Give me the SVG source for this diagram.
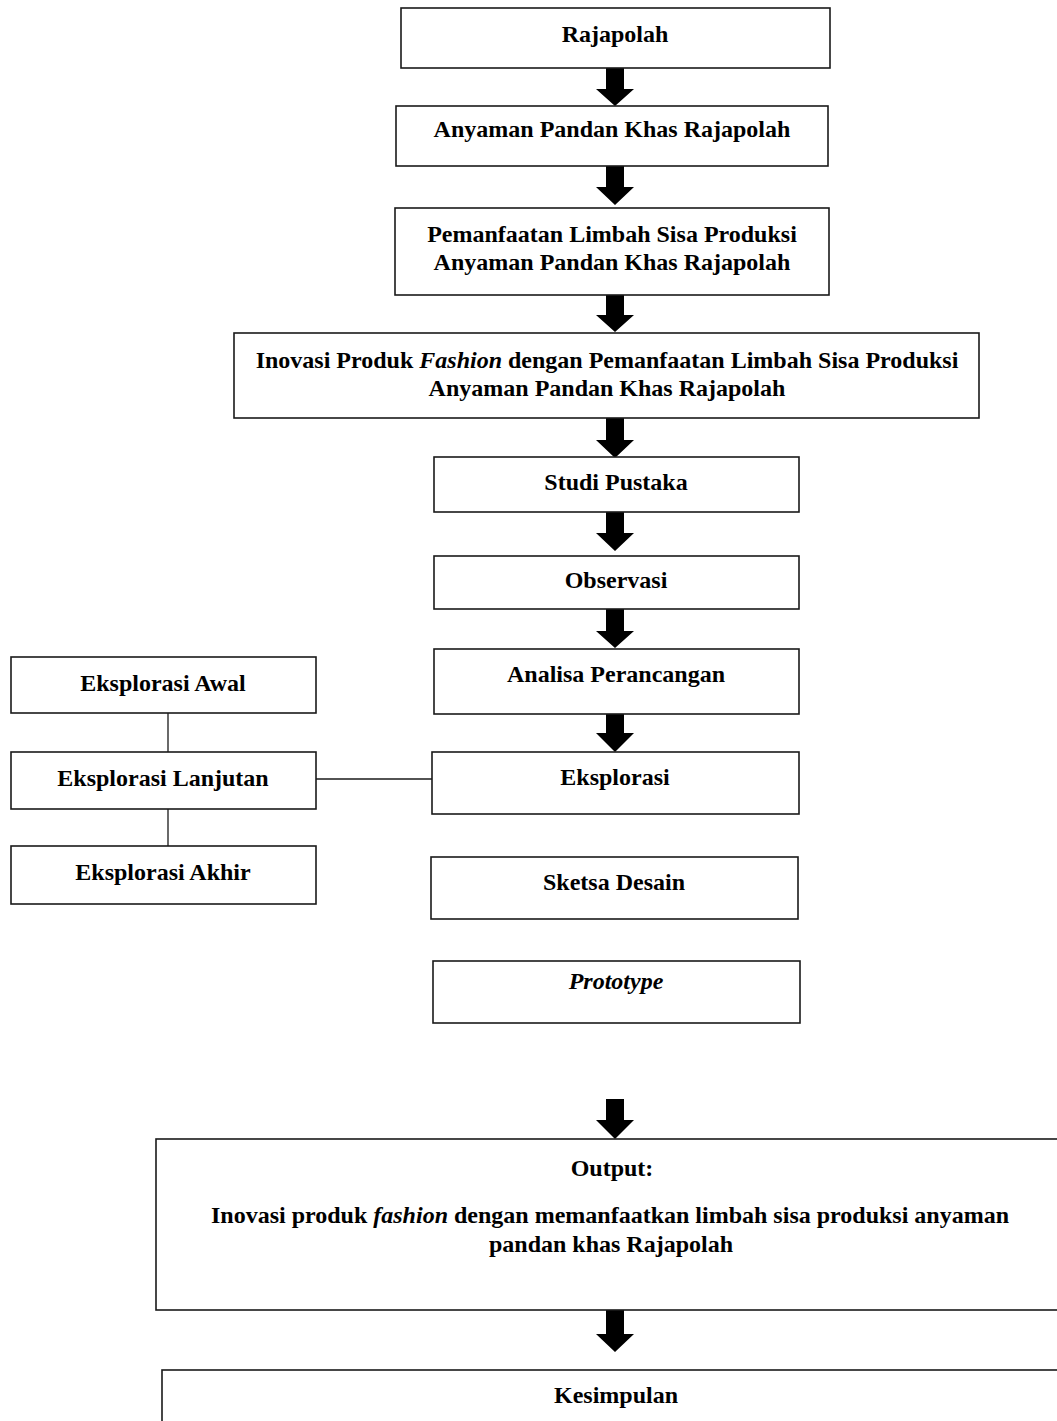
<svg xmlns="http://www.w3.org/2000/svg" width="1057" height="1421" viewBox="0 0 1057 1421">
<style>
.box{fill:#fff;stroke:#1a1a1a;stroke-width:1.6}
.t{font-family:"Liberation Serif","Times New Roman",serif;font-weight:bold;font-size:24px;fill:#000;text-anchor:middle}
.i{font-style:italic}
.ln{stroke:#1a1a1a;stroke-width:1.3;fill:none}
.ar{fill:#000}
</style>
<rect width="1057" height="1421" fill="#fff"/>
<g id="connectors">
<path class="ar" d="M606,67V89H596L615,106L634,89H624V67Z"/>
<path class="ar" d="M606,166V187H596L615,205L634,187H624V166Z"/>
<path class="ar" d="M606,295V315H596L615,332L634,315H624V295Z"/>
<path class="ar" d="M606,418V440H596L615,458L634,440H624V418Z"/>
<path class="ar" d="M606,512V533H596L615,551L634,533H624V512Z"/>
<path class="ar" d="M606,609V631H596L615,648L634,631H624V609Z"/>
<path class="ar" d="M606,714V733H596L615,752L634,733H624V714Z"/>
<path class="ar" d="M606,1099V1120H596L615,1139L634,1120H624V1099Z"/>
<path class="ar" d="M606,1310V1334H596L615,1352L634,1334H624V1310Z"/>
<line class="ln" x1="168" y1="713" x2="168" y2="752"/>
<line class="ln" x1="168" y1="809" x2="168" y2="846"/>
<line class="ln" x1="316" y1="779" x2="432" y2="779"/>
</g>
<g id="n-rajapolah"><rect class="box" x="401" y="8" width="429" height="60"/><text class="t" x="615" y="42">Rajapolah</text></g>
<g id="n-anyaman"><rect class="box" x="396" y="106" width="432" height="60"/><text class="t" x="612" y="137">Anyaman Pandan Khas Rajapolah</text></g>
<g id="n-pemanfaatan"><rect class="box" x="395" y="208" width="434" height="87"/><text class="t" x="612" y="242">Pemanfaatan Limbah Sisa Produksi</text><text class="t" x="612" y="270">Anyaman Pandan Khas Rajapolah</text></g>
<g id="n-inovasi"><rect class="box" x="234" y="333" width="745" height="85"/><text class="t" x="607" y="368">Inovasi Produk <tspan class="i">Fashion</tspan> dengan Pemanfaatan Limbah Sisa Produksi</text><text class="t" x="607" y="396">Anyaman Pandan Khas Rajapolah</text></g>
<g id="n-studi"><rect class="box" x="434" y="457" width="365" height="55"/><text class="t" x="616" y="490">Studi Pustaka</text></g>
<g id="n-observasi"><rect class="box" x="434" y="556" width="365" height="53"/><text class="t" x="616" y="588">Observasi</text></g>
<g id="n-analisa"><rect class="box" x="434" y="649" width="365" height="65"/><text class="t" x="616" y="682">Analisa Perancangan</text></g>
<g id="n-eksplorasi"><rect class="box" x="432" y="752" width="367" height="62"/><text class="t" x="615" y="785">Eksplorasi</text></g>
<g id="n-sketsa"><rect class="box" x="431" y="857" width="367" height="62"/><text class="t" x="614" y="890">Sketsa Desain</text></g>
<g id="n-prototype"><rect class="box" x="433" y="961" width="367" height="62"/><text class="t i" x="616" y="989">Prototype</text></g>
<g id="n-awal"><rect class="box" x="11" y="657" width="305" height="56"/><text class="t" x="163" y="691">Eksplorasi Awal</text></g>
<g id="n-lanjutan"><rect class="box" x="11" y="752" width="305" height="57"/><text class="t" x="163" y="786">Eksplorasi Lanjutan</text></g>
<g id="n-akhir"><rect class="box" x="11" y="846" width="305" height="58"/><text class="t" x="163" y="880">Eksplorasi Akhir</text></g>
<g id="n-output"><rect class="box" x="156" y="1139" width="910" height="171"/><text class="t" x="612" y="1176">Output:</text><text class="t" x="610" y="1223">Inovasi produk <tspan class="i">fashion</tspan> dengan memanfaatkan limbah sisa produksi anyaman</text><text class="t" x="611" y="1252">pandan khas Rajapolah</text></g>
<g id="n-kesimpulan"><rect class="box" x="162" y="1370" width="905" height="70"/><text class="t" x="616" y="1403">Kesimpulan</text></g>
</svg>
